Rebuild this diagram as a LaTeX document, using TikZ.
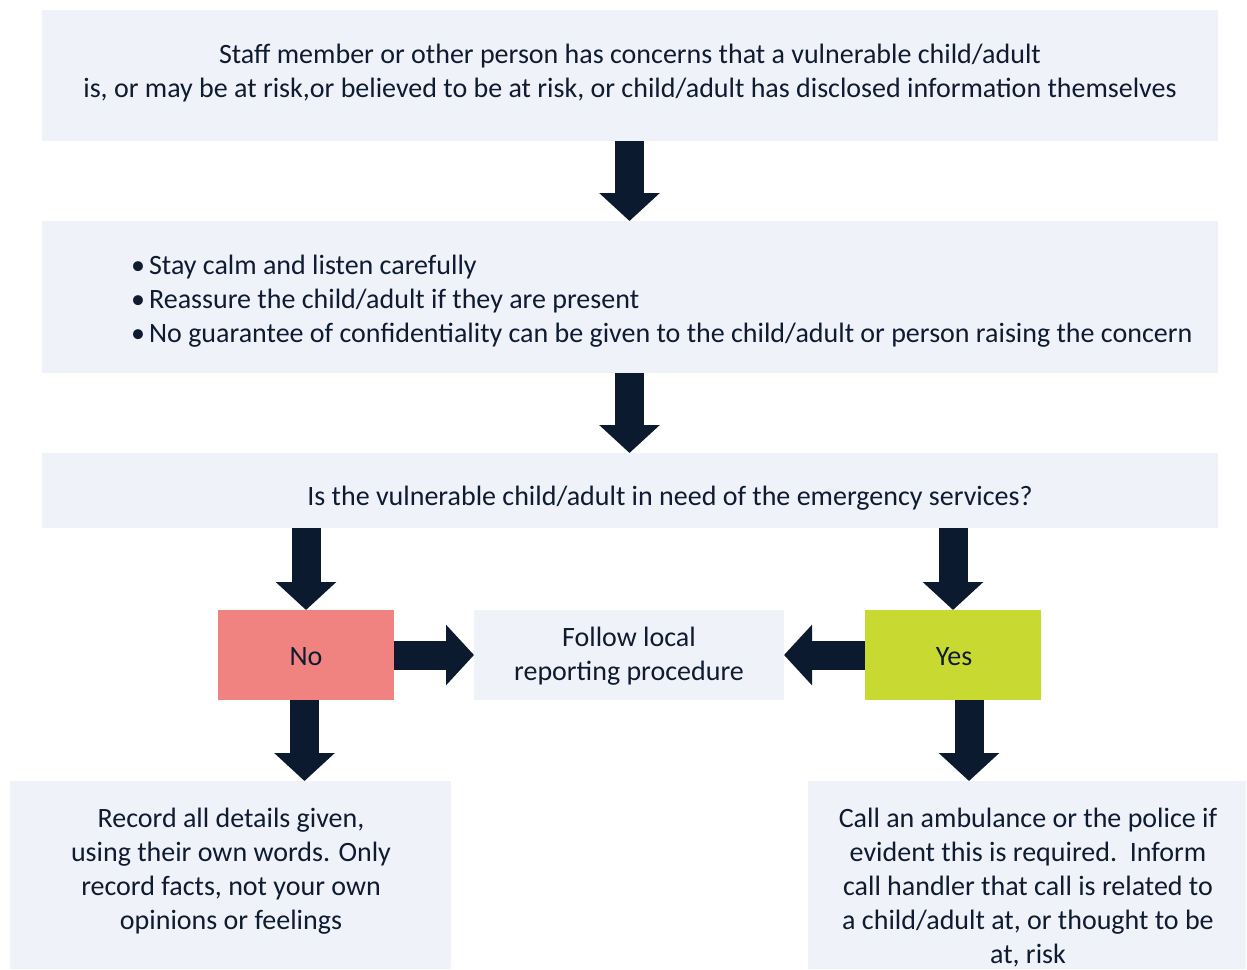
\documentclass[tikz,border=0pt]{standalone}
\usepackage{fontspec}
\setmainfont{Carlito}
\usetikzlibrary{arrows.meta}
\definecolor{boxfill}{HTML}{EFF2F9}
\definecolor{navy}{HTML}{0B1A2F}
\definecolor{txt}{HTML}{0E1B30}
\definecolor{nored}{HTML}{F08280}
\definecolor{yesgreen}{HTML}{C8D932}
\tikzset{
  panel/.style={fill=boxfill, draw=none, inner sep=0pt, outer sep=0pt},
  label/.style={text=txt, font=\fontsize{28}{34}\selectfont, align=center, inner sep=0pt},
  bigarrow/.style={draw=navy, line width=29pt, line cap=butt, -{Triangle[width=59pt,length=28pt]}},
}
\begin{document}
\begin{tikzpicture}[x=1pt,y=-1pt]
\useasboundingbox (0,0) rectangle (1247,969);
\fill[white] (0,0) rectangle (1247,969);
% boxes
\node[panel, minimum width=1176pt, minimum height=131pt, anchor=north west] (b1) at (42,10) {};
\node[panel, minimum width=1176pt, minimum height=152pt, anchor=north west] (b2) at (42,221) {};
\node[panel, minimum width=1176pt, minimum height=75pt, anchor=north west] (b3) at (42,453) {};
\node[panel, fill=nored, minimum width=176pt, minimum height=90pt, anchor=north west] (no) at (218,610) {};
\node[panel, minimum width=310pt, minimum height=90pt, anchor=north west] (fl) at (474,610) {};
\node[panel, fill=yesgreen, minimum width=176pt, minimum height=90pt, anchor=north west] (yes) at (865,610) {};
\node[panel, minimum width=441pt, minimum height=188pt, anchor=north west] (rec) at (10,781) {};
\node[panel, minimum width=438pt, minimum height=188pt, anchor=north west] (call) at (808,781) {};
% texts
\node[label] (t1) at (630,73) {Staff member or other person has concerns that a vulnerable child/adult\\is, or may be at risk,or believed to be at risk, or child/adult has disclosed information themselves};
\node[label, align=left, anchor=west] (t2) at (131,301) {\textbullet\hspace{4pt}Stay calm and listen carefully\\\textbullet\hspace{4pt}Reassure the child/adult if they are present\\\textbullet\hspace{4pt}No guarantee of confidentiality can be given to the child/adult or person raising the concern};
\node[label] (t3) at (670,498) {Is the vulnerable child/adult in need of the emergency services?};
\node[label] (tno) at (306,657) {No};
\node[label] (tyes) at (954,657) {Yes};
\node[label] (tfl) at (629,656) {Follow local\\reporting procedure};
\node[label] (trec) at (231,871) {Record all details given,\\using their own words. Only\\record facts, not your own\\opinions or feelings};
\node[label] (tcall) at (1028,888) {Call an ambulance or the police if\\evident this is required.\ \ Inform\\call handler that call is related to\\a child/adult at, or thought to be\\at, risk};
% arrows
\draw[bigarrow] (b1.south -| 629.5,0) -- (b2.north -| 629.5,0);
\draw[bigarrow] (b2.south -| 629.5,0) -- (b3.north -| 629.5,0);
\draw[bigarrow] (b3.south -| no.north) -- (no.north);
\draw[bigarrow] (b3.south -| yes.north) -- (yes.north);
\draw[bigarrow] (no.east) -- (fl.west);
\draw[bigarrow] (yes.west) -- (fl.east);
\draw[bigarrow] (no.south -| 304.5,0) -- (rec.north -| 304.5,0);
\draw[bigarrow] (yes.south -| 969,0) -- (call.north -| 969,0);
\end{tikzpicture}
\end{document}
